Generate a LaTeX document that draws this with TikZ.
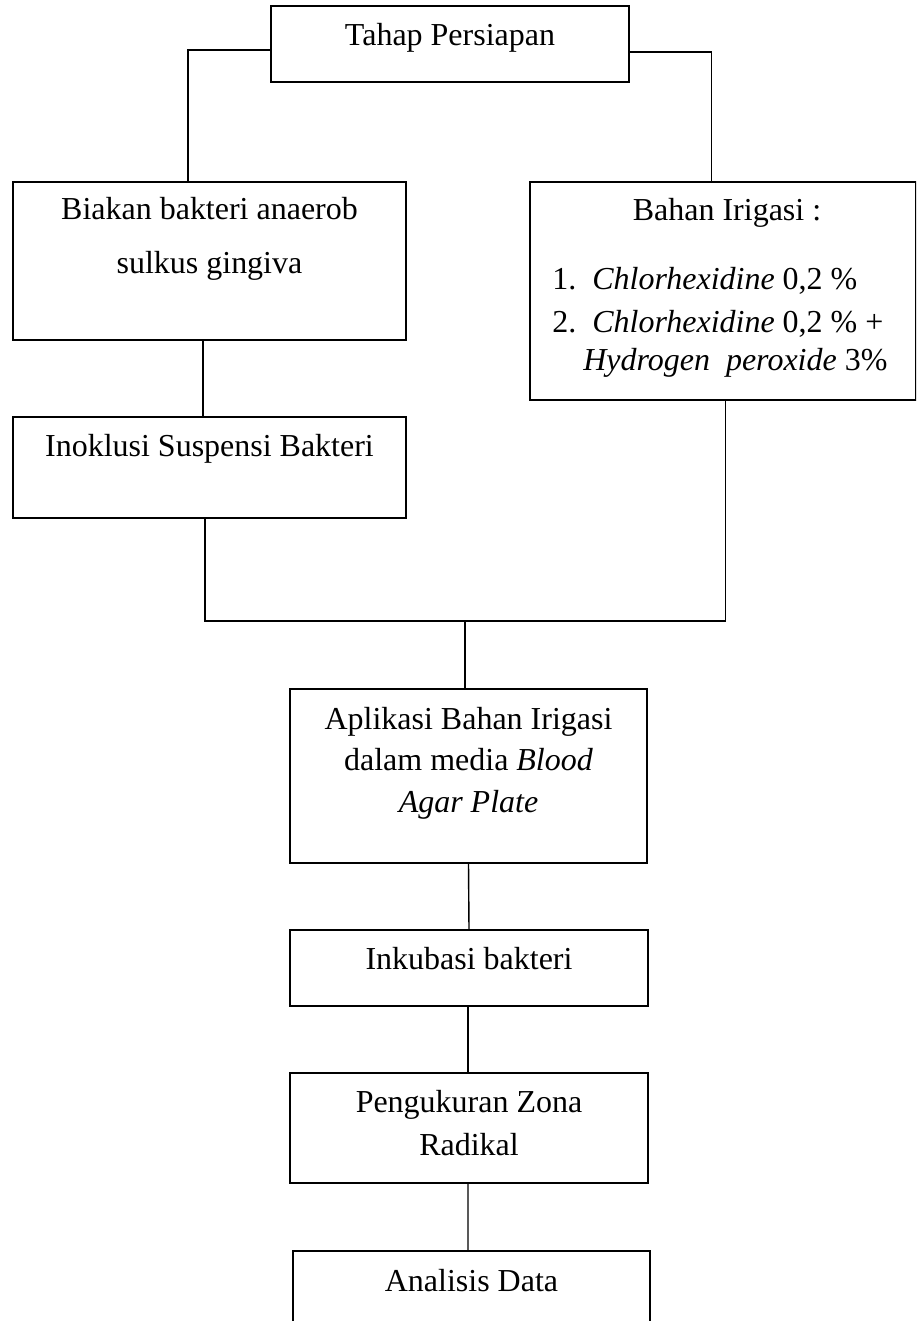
\documentclass[tikz,border=0pt]{standalone}
\usepackage{fontspec}
\setmainfont{Liberation Serif}
\usepackage{tikz}
\usetikzlibrary{positioning, calc}
\tikzset{
  stagebox/.style = {rectangle, draw, line width=0.8pt, inner sep=0pt},
  stagetxt/.style = {anchor=base, align=center, inner sep=0pt,
                     font=\fontsize{18.2}{23.6}\selectfont},
  link/.style     = {line width=0.8pt},
}

\begin{document}
\begin{tikzpicture}

    \useasboundingbox (0,0) rectangle (18.32,-26.42);
    \clip (0,0) rectangle (18.32,-26.42);

    %% Top: preparation
    \node[stagebox, minimum width=7.16cm, minimum height=1.52cm] (prep) at (9.0,-0.88) {};
    \node[stagetxt] (prepT) at ([yshift=-0.80cm]prep.north) {Tahap Persiapan};

    %% Left branch (base = last line)
    \node[stagebox, minimum width=7.86cm, minimum height=3.16cm] (biakan) at (4.19,-5.22) {};
    \node[stagetxt] (biakanT) at ([yshift=-1.84cm]biakan.north)
         {Biakan bakteri anaerob\\[7pt] sulkus gingiva};

    \node[stagebox, minimum width=7.86cm, minimum height=2.02cm] (inok) at (4.19,-9.35) {};
    \node[stagetxt] (inokT) at ([yshift=-0.80cm]inok.north) {Inoklusi Suspensi Bakteri};

    %% Right branch
    \node[stagebox, minimum width=7.72cm, minimum height=4.36cm] (bahan) at (14.46,-5.82) {};
    \node[stagetxt] (bahanT) at ([xshift=0.08cm, yshift=-0.78cm]bahan.north) {Bahan Irigasi :};
    \node[stagetxt, anchor=base west, align=left] (bahanL) at (11.04,-7.40)
         {1.\hspace{0.5em}\textit{Chlorhexidine} 0,2 \%\\[1pt]
          2.\hspace{0.5em}\textit{Chlorhexidine} 0,2 \% +\\[-2.5pt]
          \hspace*{0.62cm}\textit{Hydrogen\ \ peroxide} 3\%};

    %% Middle column
    \node[stagebox, minimum width=7.14cm, minimum height=3.48cm] (apl) at (9.37,-15.52) {};
    \node[stagetxt] (aplT) at ([yshift=-2.48cm]apl.north)
         {Aplikasi Bahan Irigasi\\ dalam media \textit{Blood}\\ \textit{Agar Plate}};

    \node[stagebox, minimum width=7.16cm, minimum height=1.52cm] (inku) at (9.38,-19.36) {};
    \node[stagetxt] (inkuT) at ([yshift=-0.80cm]inku.north) {Inkubasi bakteri};

    \node[stagebox, minimum width=7.16cm, minimum height=2.20cm] (peng) at (9.38,-22.56) {};
    \node[stagetxt] (pengT) at ([yshift=-1.66cm]peng.north)
         {Pengukuran Zona\\[1pt] Radikal};

    \node[stagebox, minimum width=7.14cm, minimum height=2.20cm] (anal) at (9.43,-26.12) {};
    \node[stagetxt] (analT) at ([yshift=-0.82cm]anal.north) {Analisis Data};

    %% Connectors
    \draw[link] ([yshift=-0.12cm]prep.west) -| ([xshift=-0.43cm]biakan.north);
    \draw[link] ([yshift=-0.16cm]prep.east) -| ([xshift=-0.23cm]bahan.north);
    \draw[link] ([xshift=-0.13cm]biakan.south) -- ([xshift=-0.13cm]inok.north);

    \coordinate (join) at (9.3,-12.42);
    \draw[link] ([xshift=-0.09cm]inok.south) |- (join) -| ([xshift=0.05cm]bahan.south);
    \draw[link] (join) -- (join |- apl.north);

    \draw[link] (apl.south) -- (inku.north);
    \draw[link] ([xshift=-0.02cm]inku.south) -- ([xshift=-0.02cm]peng.north);
    \draw[link] ([xshift=-0.02cm]peng.south) -- ([xshift=-0.07cm]anal.north);

\end{tikzpicture}
\end{document}
